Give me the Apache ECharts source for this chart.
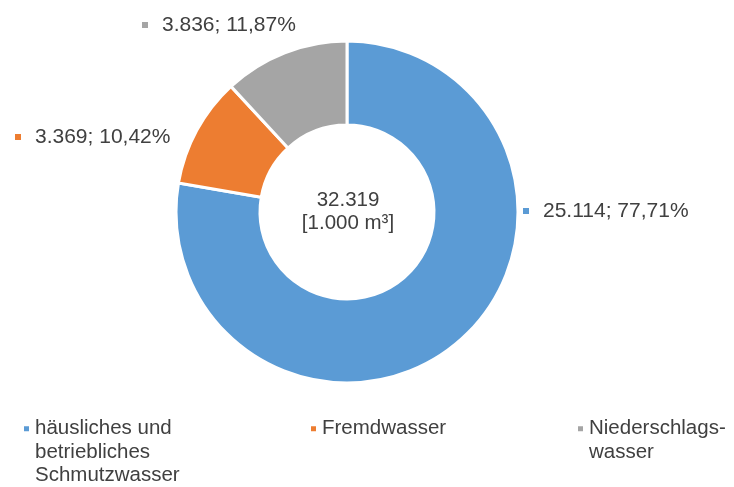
<!DOCTYPE html>
<html>
<head>
<meta charset="utf-8">
<script src="https://cdn.jsdelivr.net/npm/echarts@6/dist/echarts.min.js"></script>
<style>
    html, body { margin: 0; padding: 0; background: #fff; }
    #chart { width: 734px; height: 487px; }
</style>
</head>
<body>
<div id="chart"></div>
<script>
    // Abwassermengen in 1.000 m³
    const categories = ["häusliches und betriebliches Schmutzwasser", "Fremdwasser", "Niederschlagswasser"]
    const values = [25114, 3369, 3836]
    const legendLines = [
        ["häusliches und", "betriebliches", "Schmutzwasser"],
        ["Fremdwasser"],
        ["Niederschlags-", "wasser"],
    ]
    const unitText = "[1.000 m³]"

    const colors = ["#5B9BD5", "#ED7D31", "#A5A5A5"]
    const textColor = "#404040"
    const font = "Liberation Sans, Arial, sans-serif"

    // where Excel put the data labels (marker left edge, text middle)
    const labelPos = [[523, 211], [15, 137], [142, 25]]
    const legendLeft = [22, 309, 576]

    const total = values.reduce((a, b) => a + b, 0)
    const fmtNum = n => String(n).replace(/\B(?=(\d{3})+(?!\d))/g, ".")
    const fmtPct = v => (v / total * 100).toFixed(2).replace(".", ",") + "%"

    const rich = {t: {fontSize: 21, fontFamily: font, color: textColor, padding: [0, 0, 0, 14]}}
    colors.forEach((c, i) => {
        rich["m" + i] = {width: 6, height: 6, backgroundColor: c}
    })

    // pad legend text to 5 lines so the marker sits next to the first line
    const legendText = lines => {
        const out = ["", ""].concat(lines)
        while (out.length < 5) out.push("")
        return out.join("\n")
    }

    let myChart = echarts.init(document.getElementById("chart"))
    myChart.setOption({
        animation: false,
        color: colors,
        legend: categories.map((name, i) => ({
            data: [name],
            left: legendLeft[i],
            top: 370,
            padding: 0,
            icon: "rect",
            itemWidth: 7,
            itemHeight: 7,
            selectedMode: false,
            formatter: () => legendText(legendLines[i]),
            textStyle: {
                fontSize: 20.5,
                fontFamily: font,
                color: textColor,
                lineHeight: 23.5
            }
        })),
        graphic: [{
            type: "text",
            x: 348,
            y: 212,
            style: {
                text: fmtNum(total) + "\n" + unitText,
                fontSize: 20.5,
                fontFamily: font,
                fill: textColor,
                lineHeight: 23,
                align: "center",
                verticalAlign: "middle"
            }
        }],
        series: [
            {
                type: "pie",
                center: [347, 212],
                radius: [87, 171],
                startAngle: 90,
                clockwise: true,
                avoidLabelOverlap: false,
                itemStyle: {borderColor: "#fff", borderWidth: 3},
                label: {
                    show: true,
                    position: "outside",
                    formatter: p => "{m" + p.dataIndex + "|}{t|" + fmtNum(p.value) + "; " + fmtPct(p.value) + "}",
                    rich: rich
                },
                labelLine: {show: false},
                labelLayout: p => ({
                    x: labelPos[p.dataIndex][0],
                    y: labelPos[p.dataIndex][1],
                    align: "left",
                    verticalAlign: "middle"
                }),
                emphasis: {disabled: true},
                data: categories.map((name, i) => ({name: name, value: values[i]}))
            }
        ]
    })
</script>
</body>
</html>
